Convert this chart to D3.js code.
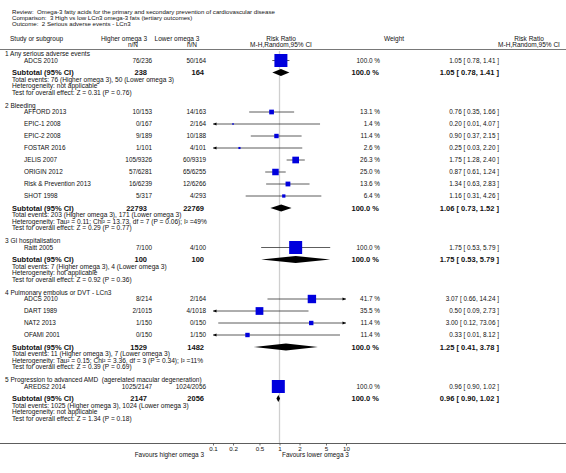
<!DOCTYPE html>
<html><head><meta charset="utf-8">
<script src="https://cdn.jsdelivr.net/npm/d3@7"></script>
<style>body{margin:0;background:#fff}text{font-family:"Liberation Sans",Arial,sans-serif;fill:#111}</style>
</head><body>
<svg id="c" width="566" height="473"></svg>
<script>
// ---------- data ----------
const titleLines = [
  "Review:  Omega-3 fatty acids for the primary and secondary prevention of cardiovascular disease",
  "Comparison:  3 High vs low LCn3 omega-3 fats (tertiary outcomes)",
  "Outcome:  2 Serious adverse events - LCn3"
];
const groupTitles = [
  "1 Any serious adverse events",
  "2 Bleeding",
  "3 GI hospitalisation",
  "4 Pulmonary embolus or DVT - LCn3",
  "5 Progression to advanced AMD  (agerelated macular degeneration)"
];
const studyNames = ["ADCS 2010","AFFORD 2013","EPIC-1 2008","EPIC-2 2008","FOSTAR 2016","JELIS 2007","ORIGIN 2012","Risk & Prevention 2013","SHOT 1998","Raitt 2005","ADCS 2010","DART 1989","NAT2 2013","OFAMI 2001","AREDS2 2014"];
const studyGroup   = [0,1,1,1,1,1,1,1,1,2,3,3,3,3,4];
const higherEvents = [76,10,0,9,1,105,57,16,5,7,8,2,1,0,1025];
const higherTotal  = [236,153,167,189,101,9326,6281,6239,317,100,214,1015,150,150,2147];
const lowerEvents  = [50,14,2,10,4,60,65,12,4,4,2,4,0,1,1024];
const lowerTotal   = [164,163,164,188,101,9319,6255,6266,293,100,164,1018,150,150,2056];
const studyWeight  = [100.0,13.1,1.4,11.4,2.6,26.3,25.0,13.6,6.4,100.0,41.7,35.5,11.4,11.4,100.0];
const studyRR      = [1.05,0.76,0.20,0.90,0.25,1.75,0.87,1.34,1.16,1.75,3.07,0.50,3.00,0.33,0.96];
const studyLo      = [0.78,0.35,0.01,0.37,0.03,1.28,0.61,0.63,0.31,0.53,0.66,0.09,0.12,0.01,0.90];
const studyHi      = [1.41,1.66,4.07,2.15,2.20,2.40,1.24,2.83,4.26,5.79,14.24,2.73,73.06,8.12,1.02];

const subHigherN   = [238,22793,100,1529,2147];
const subLowerN    = [164,22769,100,1482,2056];
const subRR        = [1.05,1.06,1.75,1.25,0.96];
const subLo        = [0.78,0.73,0.53,0.41,0.90];
const subHi        = [1.41,1.52,5.79,3.78,1.02];
const totEvHigher  = [76,203,7,11,1025];
const totEvLower   = [50,171,4,7,1024];
const heterogeneity = [
  "not applicable",
  "Tau\u00B2 = 0.11; Chi\u00B2 = 13.73, df = 7 (P = 0.06); I\u00B2 =49%",
  "not applicable",
  "Tau\u00B2 = 0.15; Chi\u00B2 = 3.36, df = 3 (P = 0.34); I\u00B2 =11%",
  "not applicable"
];
const zValues = ["0.31","0.29","0.92","0.39","1.34"];
const pValues = ["0.76","0.77","0.36","0.69","0.18"];
const tickValues = [0.1,0.2,0.5,1,2,5,10];
const tickLabels = ["0.1","0.2","0.5","1","2","5","10"];
const favoursLeft = "Favours higher omega 3";
const favoursRight = "Favours lower omega 3";

// ---------- drawing ----------
const svg = d3.select("#c");
const x = d3.scaleLog().domain([0.1,10]).range([213,346]);
const f2 = d3.format(".2f"), f1 = d3.format(".1f");
const FS = 6.4, FSB = 7.5, FSM = 6.6;

function txt(xp, yp, s, opt={}) {
  return svg.append("text").attr("x", xp).attr("y", yp).attr("dy","0.35em")
    .attr("font-size", opt.size || FS)
    .attr("font-weight", opt.bold ? "bold" : "normal")
    .attr("text-anchor", opt.anchor || "start")
    .style("white-space","pre")
    .text(s);
}

// titles
titleLines.forEach((t,i)=>txt(12, 11.5 + i*6.3, t, {size:6.1}));
// headers
txt(10, 38.5, "Study or subgroup", {size:6.5});
txt(124, 38.5, "Higher omega 3", {size:6.5, anchor:"middle"});
txt(138, 44.5, "n/N", {size:6.5, anchor:"end"});
txt(177, 38.5, "Lower omega 3", {size:6.5, anchor:"middle"});
txt(197, 44.5, "n/N", {size:6.5, anchor:"end"});
txt(281, 38.5, "Risk Ratio", {size:6.5, anchor:"middle"});
txt(281, 44.5, "M-H,Random,95% CI", {size:6.5, anchor:"middle"});
txt(394, 38.5, "Weight", {size:6.5, anchor:"middle"});
txt(529, 38.5, "Risk Ratio", {size:6.5, anchor:"middle"});
txt(529, 44.5, "M-H,Random,95% CI", {size:6.5, anchor:"middle"});
svg.append("line").attr("x1",0).attr("x2",566).attr("y1",49.5).attr("y2",49.5)
  .attr("stroke","#555").attr("stroke-width",0.8);

// layout positions
let y = 54;
const studyY = [], subY = [], headY = [], metaY = [];
groupTitles.forEach((g,gi)=>{
  headY.push(y);
  let sy = y + 6.5;
  studyGroup.forEach((sg,si)=>{ if(sg===gi){ studyY[si]=sy; sy += 12; } });
  const sub = sy;
  subY.push(sub);
  metaY.push([sub+7, sub+13.5, sub+20]);
  y = sub + 33;
});

// reference line at 1
svg.append("line").attr("x1",x(1)).attr("x2",x(1)).attr("y1",51).attr("y2",443)
  .attr("stroke","#cfcfcf").attr("stroke-width",1.3);

// group headers and meta
groupTitles.forEach((g,gi)=>{
  txt(5, headY[gi], g, {size:6.5});
  txt(12, subY[gi], "Subtotal (95% CI)", {size:FSB, bold:true});
  txt(147, subY[gi], String(subHigherN[gi]), {size:FSB, bold:true, anchor:"end"});
  txt(204, subY[gi], String(subLowerN[gi]), {size:FSB, bold:true, anchor:"end"});
  txt(379, subY[gi], "100.0 %", {size:FSB, bold:true, anchor:"end"});
  txt(499, subY[gi], `${f2(subRR[gi])} [ ${f2(subLo[gi])}, ${f2(subHi[gi])} ]`, {size:FSB, bold:true, anchor:"end"});
  txt(12, metaY[gi][0], `Total events: ${totEvHigher[gi]} (Higher omega 3), ${totEvLower[gi]} (Lower omega 3)`, {size:FSM});
  txt(12, metaY[gi][1], `Heterogeneity: ${heterogeneity[gi]}`, {size:FSM});
  txt(12, metaY[gi][2], `Test for overall effect: Z = ${zValues[gi]} (P = ${pValues[gi]})`, {size:FSM});
  // diamond
  const yc = subY[gi], h = 3.6;
  const pts = [[x(subLo[gi]),yc],[x(subRR[gi]),yc-h],[x(subHi[gi]),yc],[x(subRR[gi]),yc+h]];
  svg.append("path").attr("d", d3.line()(pts)+"Z").attr("fill","#000");
});

// studies
const [dMin, dMax] = x.domain();
studyNames.forEach((n,si)=>{
  const yc = studyY[si];
  txt(24, yc, n);
  txt(152, yc, `${higherEvents[si]}/${higherTotal[si]}`, {anchor:"end"});
  txt(206, yc, `${lowerEvents[si]}/${lowerTotal[si]}`, {anchor:"end"});
  txt(380, yc, `${f1(studyWeight[si])} %`, {anchor:"end"});
  txt(499, yc, `${f2(studyRR[si])} [ ${f2(studyLo[si])}, ${f2(studyHi[si])} ]`, {anchor:"end"});
  const lo = Math.max(studyLo[si], dMin), hi = Math.min(studyHi[si], dMax);
  svg.append("line").attr("x1",x(lo)).attr("x2",x(hi)).attr("y1",yc).attr("y2",yc)
    .attr("stroke","#333").attr("stroke-width",0.8);
  if (studyLo[si] < dMin) {
    const ax = x(dMin);
    svg.append("path").attr("d",`M${ax},${yc}L${ax+3.5},${yc-1.4}L${ax+3.5},${yc+1.4}Z`).attr("fill","#000");
  }
  if (studyHi[si] > dMax) {
    const ax = x(dMax);
    svg.append("path").attr("d",`M${ax},${yc}L${ax-3.5},${yc-1.4}L${ax-3.5},${yc+1.4}Z`).attr("fill","#000");
  }
  const s = Math.max(1.5, 13*Math.sqrt(studyWeight[si]/100));
  svg.append("rect").attr("x",x(studyRR[si])-s/2).attr("y",yc-s/2).attr("width",s).attr("height",s)
    .attr("fill","#0000dd");
});

// axis
const axisY = 443.5;
svg.append("line").attr("x1",0).attr("x2",566).attr("y1",axisY).attr("y2",axisY)
  .attr("stroke","#333").attr("stroke-width",0.8);
const axis = d3.axisBottom(x).tickValues(tickValues).tickFormat((d,i)=>tickLabels[i]).tickSize(2).tickPadding(1);
const ag = svg.append("g").attr("transform",`translate(0,${axisY})`).call(axis);
ag.select(".domain").remove();
ag.selectAll("text").attr("font-size",6.2).attr("fill","#111").style("font-family","Liberation Sans, Arial, sans-serif");
ag.selectAll("line").attr("stroke","#333").attr("stroke-width",0.7);
txt(204, 455, favoursLeft, {anchor:"end", size:6.4});
txt(282, 455, favoursRight, {size:6.4});
</script>
</body></html>
